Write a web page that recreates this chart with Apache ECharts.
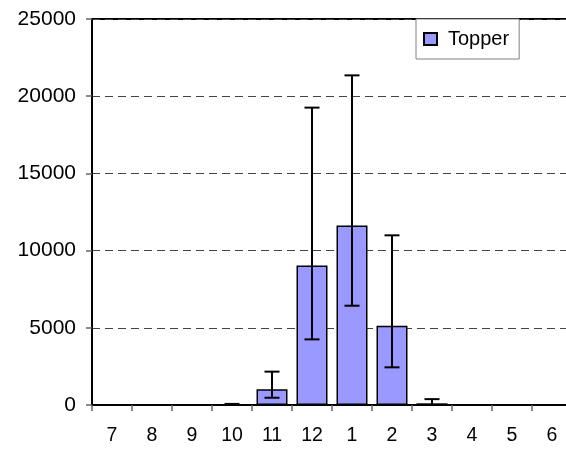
<!DOCTYPE html>
<html>
<head>
<meta charset="utf-8">
<script src="https://cdn.jsdelivr.net/npm/echarts@6/dist/echarts.min.js"></script>
<style>html,body{margin:0;padding:0;background:#fff;overflow:hidden;width:566px;height:449px}#c{width:574px;height:449px}</style>
</head>
<body>
<div id="c"></div>
<script>
const categories = ['7','8','9','10','11','12','1','2','3','4','5','6'];
const values = [0, 0, 0, 20, 1020, 9030, 11620, 5140, 110, 0, 0, 0];
const errLow = [0, 0, 0, 0, 470, 4250, 6430, 2440, 0, 0, 0, 0];
const errHigh = [0, 0, 0, 70, 2160, 19260, 21350, 10990, 380, 0, 0, 0];
const seriesName = 'Topper';

const errData = categories.map((c, i) => [i, errLow[i], errHigh[i]]);
const chart = echarts.init(document.getElementById('c'));
const font = 'Liberation Sans, Arial, sans-serif';
chart.setOption({
  animation: false,
  backgroundColor: '#fff',
  textStyle: { fontFamily: font, color: '#000' },
  grid: { left: 92, top: 19, width: 480, bottom: 44, show: true, borderColor: '#000', borderWidth: 2, backgroundColor: 'transparent' },
  legend: {
    data: [seriesName], left: 416, top: 19,
    backgroundColor: '#fff', borderColor: '#808080', borderWidth: 1,
    padding: [10, 10, 10, 7], itemWidth: 13, itemHeight: 12, itemGap: 5,
    textStyle: { fontFamily: font, fontSize: 20, color: '#000', padding: [0, 0, 0, 6] },
    icon: 'rect'
  },
  xAxis: {
    type: 'category', data: categories,
    axisLine: { lineStyle: { color: '#000', width: 2 } },
    axisTick: { show: true, length: 6, lineStyle: { color: '#666', width: 1.5 } },
    axisLabel: { fontFamily: font, fontSize: 19.5, color: '#000', margin: 21 },
    splitLine: { show: false }
  },
  yAxis: {
    type: 'value', min: 0, max: 25000, interval: 5000,
    axisLine: { show: true, lineStyle: { color: '#000', width: 2 } },
    axisTick: { show: true, length: 6, lineStyle: { color: '#666', width: 1.5 } },
    axisLabel: { fontFamily: font, fontSize: 21, color: '#000', margin: 16, formatter: v => String(v) },
    splitLine: { show: true, lineStyle: { color: '#444', width: 1, type: [8, 5] } }
  },
  series: [
    {
      name: seriesName, type: 'bar', data: values, barWidth: 31,
      itemStyle: { color: '#9999FF', borderColor: '#000', borderWidth: 1.5 }
    },
    {
      type: 'custom', data: errData, z: 5,
      encode: { x: 0, y: [1, 2] },
      renderItem: function (params, api) {
        const x = api.value(0);
        const pLo = api.coord([x, api.value(1)]);
        const pHi = api.coord([x, api.value(2)]);
        const hw = 7.5;
        const st = { stroke: '#000', lineWidth: 2 };
        return {
          type: 'group',
          children: [
            { type: 'line', shape: { x1: pHi[0], y1: pHi[1], x2: pLo[0], y2: pLo[1] }, style: st },
            { type: 'line', shape: { x1: pHi[0] - hw, y1: pHi[1], x2: pHi[0] + hw, y2: pHi[1] }, style: st },
            { type: 'line', shape: { x1: pLo[0] - hw, y1: pLo[1], x2: pLo[0] + hw, y2: pLo[1] }, style: st }
          ]
        };
      }
    }
  ]
});
</script>
</body>
</html>
